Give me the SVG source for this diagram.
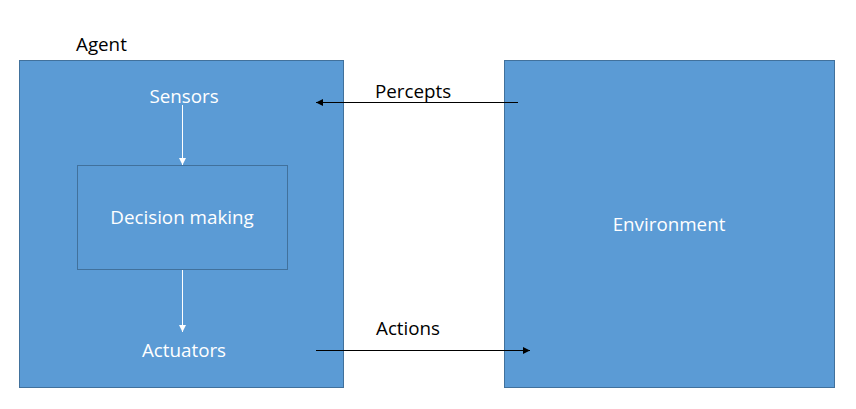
<svg xmlns="http://www.w3.org/2000/svg" width="856" height="409" viewBox="0 0 856 409">
<style>
.box{fill:#5B9BD5;stroke:#41719C;stroke-width:1}
.inner{fill:#5B9BD5;stroke:#41719C;stroke-width:1}
.wt{font-family:"Open Sans","Liberation Sans",sans-serif;font-size:18.8px;fill:#FFFFFF;text-anchor:middle}
.bt{font-family:"Open Sans","Liberation Sans",sans-serif;font-size:18.8px;fill:#000000}
.wl{stroke:#FFFFFF;stroke-width:1;fill:none}
.bl{stroke:#000000;stroke-width:1;fill:none}
</style>
<defs>
<marker id="aw" viewBox="0 0 10 10" refX="10" refY="5" markerWidth="7" markerHeight="7" orient="auto" markerUnits="userSpaceOnUse"><path d="M0,0 L10,5 L0,10 z" fill="#FFFFFF"/></marker>
<marker id="ab" viewBox="0 0 10 10" refX="10" refY="5" markerWidth="7" markerHeight="7" orient="auto" markerUnits="userSpaceOnUse"><path d="M0,0 L10,5 L0,10 z" fill="#000000"/></marker>
</defs>
<rect width="856" height="409" fill="#FFFFFF"/>
<g id="agent">
<text class="bt" x="76" y="51">Agent</text>
<rect class="box" x="19.5" y="60.5" width="324" height="327"/>
</g>
<g id="sensors"><text class="wt" x="184" y="103">Sensors</text></g>
<g id="decision">
<rect class="inner" x="77.5" y="165.5" width="210" height="104"/>
<text class="wt" x="182" y="224">Decision making</text>
</g>
<g id="actuators"><text class="wt" x="184" y="357">Actuators</text></g>
<g id="environment">
<rect class="box" x="504.5" y="60.5" width="330" height="327"/>
<text class="wt" x="669" y="231">Environment</text>
</g>
<g id="connectors">
<line class="wl" x1="182.5" y1="105" x2="182.5" y2="165" marker-end="url(#aw)"/>
<line class="wl" x1="182.5" y1="270" x2="182.5" y2="332" marker-end="url(#aw)"/>
<line class="bl" x1="518" y1="102.5" x2="316" y2="102.5" marker-end="url(#ab)"/>
<line class="bl" x1="316" y1="350.5" x2="530" y2="350.5" marker-end="url(#ab)"/>
<text class="bt" x="375" y="98">Percepts</text>
<text class="bt" x="376" y="335">Actions</text>
</g>
</svg>
